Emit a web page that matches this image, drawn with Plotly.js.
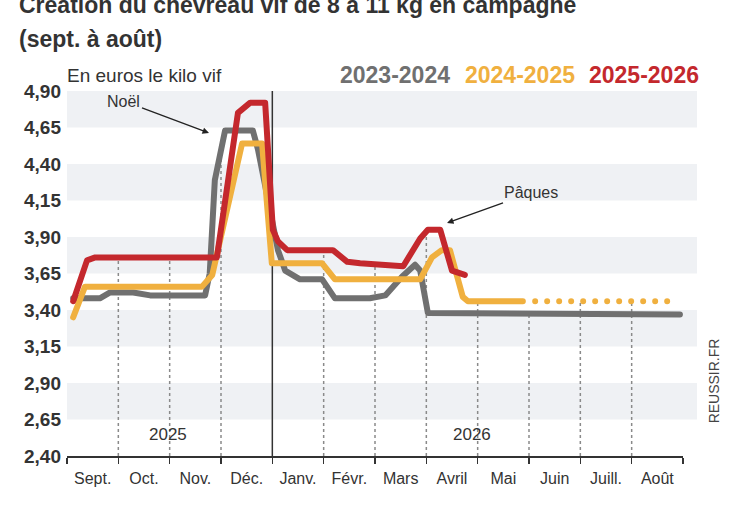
<!DOCTYPE html>
<html>
<head>
<meta charset="utf-8">
<script src="https://cdn.plot.ly/plotly-3.0.1.min.js"></script>
<style>
  html, body { margin: 0; padding: 0; background: #ffffff; }
  #chart { width: 747px; height: 513px; }
  .scatterlayer path.js-line { stroke-linecap: round !important; stroke-linejoin: round !important; }
</style>
</head>
<body>
<div id="chart"></div>
<script>
// ---------- Data ----------
const months = ["Sept.", "Oct.", "Nov.", "Déc.", "Janv.", "Févr.", "Mars", "Avril", "Mai", "Juin", "Juill.", "Août"];
const seriesNames = ["2023-2024", "2024-2025", "2025-2026"];
const yTicks = [2.40, 2.65, 2.90, 3.15, 3.40, 3.65, 3.90, 4.15, 4.40, 4.65, 4.90];

// x = position in the campaign in months (0 = start of September)
const x2324 = [0.12, 0.64, 0.84, 1.29, 1.62, 2.69, 2.78, 2.88, 3.08, 3.62, 3.72, 4.11, 4.25, 4.54, 4.97, 5.22, 5.90, 6.20, 6.53, 6.78, 6.88, 7.03, 11.94];
const y2324 = [3.48, 3.48, 3.52, 3.52, 3.50, 3.50, 3.65, 4.29, 4.63, 4.63, 4.50, 3.81, 3.67, 3.61, 3.61, 3.48, 3.48, 3.50, 3.63, 3.71, 3.67, 3.38, 3.37];

const x2425 = [0.12, 0.35, 2.63, 2.83, 3.41, 3.80, 3.99, 4.97, 5.22, 6.88, 7.11, 7.30, 7.46, 7.71, 7.81, 8.88];
const y2425 = [3.35, 3.56, 3.56, 3.64, 4.54, 4.54, 3.72, 3.72, 3.61, 3.61, 3.76, 3.81, 3.81, 3.49, 3.46, 3.46];
// dotted continuation of 2024-2025
const x2425f = [9.12, 11.71];
const y2425f = [3.46, 3.46];

const x2526 = [0.12, 0.39, 0.55, 2.92, 3.33, 3.57, 3.86, 4.01, 4.11, 4.29, 5.18, 5.46, 5.71, 6.55, 6.88, 7.03, 7.27, 7.50, 7.75];
const y2526 = [3.46, 3.74, 3.76, 3.76, 4.75, 4.82, 4.82, 3.95, 3.87, 3.81, 3.81, 3.73, 3.72, 3.70, 3.89, 3.95, 3.95, 3.67, 3.64];

// ---------- Styles ----------
const colors = ["#707070", "#f0b03f", "#c4282d"];
const FONT = "Liberation Sans, Arial, sans-serif";
const DARK = "#333333";

function interp(xs, ys, x) {
  if (x < xs[0] || x > xs[xs.length - 1]) return null;
  for (let i = 1; i < xs.length; i++) {
    if (x <= xs[i]) {
      const t = (x - xs[i - 1]) / (xs[i] - xs[i - 1]);
      return ys[i - 1] + t * (ys[i] - ys[i - 1]);
    }
  }
  return null;
}

const traces = [
  { x: x2324, y: y2324, mode: "lines", line: { color: colors[0], width: 6 }, name: seriesNames[0], showlegend: false, hoverinfo: "skip" },
  { x: x2425, y: y2425, mode: "lines", line: { color: colors[1], width: 6 }, name: seriesNames[1], showlegend: false, hoverinfo: "skip" },
  { x: x2425f, y: y2425f, mode: "lines", line: { color: colors[1], width: 6, dash: "0px,12px" }, name: seriesNames[1], showlegend: false, hoverinfo: "skip" },
  { x: x2526, y: y2526, mode: "lines", line: { color: colors[2], width: 6 }, name: seriesNames[2], showlegend: false, hoverinfo: "skip" }
];

// ---------- Shapes ----------
const shapes = [];
// alternating grey bands
for (let i = 1; i < yTicks.length - 1; i += 2) {
  shapes.push({ type: "rect", xref: "paper", yref: "y", x0: 0, x1: 1.0227, y0: yTicks[i], y1: yTicks[i + 1],
    fillcolor: "#eff1f4", line: { width: 0 }, layer: "below" });
}
// dotted month separators, from the axis up to the highest curve
for (let m = 1; m < months.length; m++) {
  if (m === 4) continue;
  const vals = [interp(x2324, y2324, m), interp(x2425, y2425, m), interp(x2425f, y2425f, m), interp(x2526, y2526, m)].filter(v => v !== null);
  const top = Math.max.apply(null, vals);
  shapes.push({ type: "line", xref: "x", yref: "y", x0: m, x1: m, y0: yTicks[0], y1: top,
    line: { color: "#8a8a8a", width: 1.5, dash: "dot" }, layer: "below" });
}
// solid year separator
shapes.push({ type: "line", xref: "x", yref: "y", x0: 4, x1: 4, y0: yTicks[0], y1: yTicks[yTicks.length - 1],
  line: { color: DARK, width: 1.5 }, layer: "below" });

// ---------- Annotations ----------
const legendX = [0.4399, 0.6429, 0.8442];
const annotations = [
  { text: "Création du chevreau vif de 8 à 11 kg en campagne", xref: "paper", yref: "paper", x: -0.0812, y: 1.2356, xanchor: "left", yanchor: "middle", showarrow: false,
    font: { family: FONT, size: 23, color: DARK, weight: "bold" } },
  { text: "(sept. à août)", xref: "paper", yref: "paper", x: -0.0812, y: 1.1425, xanchor: "left", yanchor: "middle", showarrow: false,
    font: { family: FONT, size: 23, color: DARK, weight: "bold" } },
  { text: "En euros le kilo vif", xref: "paper", yref: "paper", x: -0.0032, y: 1.0438, xanchor: "left", yanchor: "middle", showarrow: false,
    font: { family: FONT, size: 19, color: DARK } },
  { text: "Noël", xref: "x", yref: "y", x: 2.766, y: 4.612, ax: -85, ay: -32, showarrow: true, arrowhead: 2, arrowsize: 1, arrowwidth: 1.3, arrowcolor: "#222",
    font: { family: FONT, size: 16, color: DARK } },
  { text: "Pâques", xref: "x", yref: "y", x: 7.403, y: 3.996, ax: 84, ay: -30, showarrow: true, arrowhead: 2, arrowsize: 1, arrowwidth: 1.3, arrowcolor: "#222",
    font: { family: FONT, size: 16, color: DARK } },
  { text: "2025", xref: "x", yref: "y", x: 1.968, y: 2.544, showarrow: false, font: { family: FONT, size: 17, color: DARK } },
  { text: "2026", xref: "x", yref: "y", x: 7.89, y: 2.544, showarrow: false, font: { family: FONT, size: 17, color: DARK } },
  { text: "REUSSIR.FR", xref: "paper", yref: "paper", x: 1.068, y: 0.085, textangle: -90, showarrow: false,
    font: { family: FONT, size: 14, color: "#444" } }
];
seriesNames.forEach((n, i) => {
  annotations.push({ text: n, xref: "paper", yref: "paper", x: legendX[i], y: 1.0438, xanchor: "left", yanchor: "middle", showarrow: false,
    font: { family: FONT, size: 23, color: colors[i], weight: "bold" } });
});

const monthCenters = months.map((_, i) => i + 0.5);
const monthEdges = months.map((_, i) => i).concat([months.length]);

const layout = {
  width: 747, height: 513,
  margin: { l: 67, r: 64, t: 91, b: 57, pad: 0 },
  paper_bgcolor: "#ffffff", plot_bgcolor: "rgba(0,0,0,0)",
  separators: ", ",
  showlegend: false,
  xaxis: {
    range: [0, months.length], fixedrange: true,
    tickmode: "array", tickvals: monthCenters, ticktext: months, ticks: "",
    tickfont: { family: FONT, size: 16, color: DARK },
    ticklabelstandoff: 7,
    showgrid: false, zeroline: false,
    showline: true, linecolor: DARK, linewidth: 2,
    minor: { tickmode: "array", tickvals: monthEdges, ticks: "outside", ticklen: 6, tickwidth: 1.5, tickcolor: DARK, showgrid: false }
  },
  yaxis: {
    range: [yTicks[0], yTicks[yTicks.length - 1]], fixedrange: true,
    tickmode: "array", tickvals: yTicks, tickformat: ".2f", ticks: "",
    tickfont: { family: FONT, size: 19, color: DARK, weight: "bold" },
    ticklabelstandoff: 5,
    showgrid: false, zeroline: false, showline: false
  },
  shapes: shapes,
  annotations: annotations
};

Plotly.newPlot("chart", traces, layout, { displayModeBar: false, staticPlot: true });
</script>
</body>
</html>
